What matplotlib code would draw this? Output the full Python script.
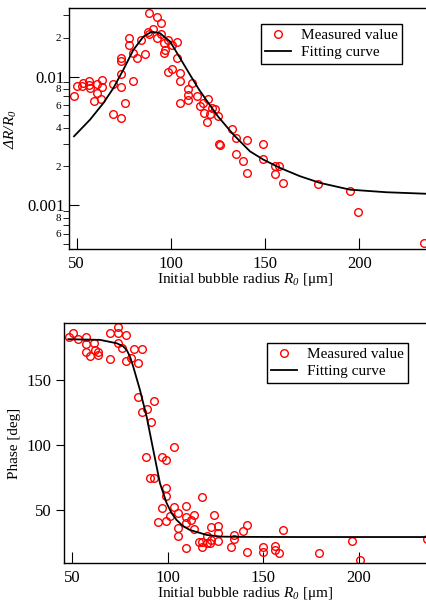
import matplotlib
matplotlib.use("Agg")
import matplotlib.pyplot as plt
from matplotlib.ticker import FixedLocator, FixedFormatter

plt.rcParams['font.family'] = ['Liberation Serif', 'DejaVu Serif']
plt.rcParams['mathtext.fontset'] = 'custom'
# italic for everything in math text, subscripts and Greek included
plt.rcParams['mathtext.rm'] = 'Liberation Serif:italic'
plt.rcParams['mathtext.it'] = 'Liberation Serif:italic'

# --- amplitude data (top) ---
amp_x = [48.6, 50.3, 52.7, 53.2, 56.7, 56.7, 57.1, 59.2, 61.0, 61.0, 63.3, 63.3, 62.9,
         69.5, 69.5, 73.4, 73.4, 73.4, 73.7, 73.7, 75.7, 77.8, 78.0, 79.8, 80.1, 81.9,
         84.0, 86.3, 88.2, 87.7, 88.6, 90.4, 92.5, 92.5, 94.6, 94.9, 96.4, 96.4, 96.7,
         98.6, 98.6, 100.5, 100.8, 103.1, 103.1, 104.9, 104.9, 104.9, 109.3, 109.3, 109.3,
         111.1, 113.7, 115.5, 117.2, 117.6, 119.0, 119.9, 120.8, 121.7, 123.4, 125.2,
         125.7, 126.1, 132.3, 134.4, 134.4, 138.5, 140.6, 140.6, 148.8, 149.1, 155.3,
         157.4, 155.3, 159.4, 178.1, 195.1, 199.3, 234.4]
amp_y = [0.0070, 0.00847, 0.00847, 0.00889, 0.00927, 0.00863, 0.00813, 0.00648, 0.00878,
         0.00743, 0.00943, 0.00828, 0.00671, 0.00878, 0.00514, 0.0105, 0.00836, 0.0139,
         0.0133, 0.00477, 0.00622, 0.0200, 0.0176, 0.00915, 0.0152, 0.0139, 0.0192,
         0.0149, 0.031, 0.0223, 0.0213, 0.0233, 0.0292, 0.0199, 0.0259, 0.0214, 0.0182,
         0.0152, 0.0161, 0.0192, 0.0109, 0.0176, 0.0114, 0.0187, 0.0139, 0.0106, 0.00915,
         0.00622, 0.00798, 0.00721, 0.00659, 0.00889, 0.0070, 0.00585, 0.00622, 0.0052,
         0.0044, 0.00668, 0.00514, 0.00569, 0.00558, 0.0049, 0.00301, 0.00296, 0.00391,
         0.00333, 0.00252, 0.00222, 0.00323, 0.00179, 0.00299, 0.0023, 0.0020, 0.0020,
         0.00175, 0.0015, 0.00145, 0.0013, 0.00089, 0.000507]
amp_fit_x = [48.6, 57.1, 64.2, 69.5, 74.8, 80.1, 85.4, 89.8, 94.2, 99.6, 104.9, 110.2,
             115.0, 120.0, 125.0, 133.1, 142.0, 149.1, 157.9, 168.5, 179.2, 195.1,
             214.6, 240.0]
amp_fit_y = [0.00343, 0.00462, 0.00622, 0.00813, 0.0113, 0.0161, 0.0204, 0.0223,
             0.0217, 0.0187, 0.0139, 0.0103, 0.0079, 0.0062, 0.0049, 0.00355, 0.00262,
             0.00226, 0.00195, 0.00168, 0.00149, 0.00132, 0.00126, 0.00122]

# --- phase data (bottom) ---
ph_x = [48.4, 50.5, 52.8, 57.2, 57.2, 57.2, 59.3, 61.4, 61.9, 63.3, 63.3, 69.7, 69.7,
        73.8, 73.8, 73.8, 76.2, 78.1, 78.1, 80.6, 82.3, 84.4, 86.6, 84.4, 86.6, 88.9,
        91.0, 92.8, 88.6, 90.7, 92.8, 97.1, 99.2, 99.2, 99.2, 97.1, 95.0, 99.2, 101.3,
        103.2, 103.2, 105.5, 105.5, 105.5, 109.5, 109.5, 109.5, 109.5, 112.0, 113.9,
        113.9, 117.9, 116.2, 117.9, 120.4, 120.4, 122.4, 122.4, 124.3, 126.4, 126.4,
        126.4, 122.1, 118.1, 132.9, 134.8, 134.8, 139.2, 141.3, 141.3, 149.7, 149.7,
        156.1, 156.1, 158.2, 160.1, 179.1, 196.3, 200.6, 235.5]
ph_y = [183.3, 185.9, 181.3, 183.3, 177.5, 171.5, 168.7, 178.2, 173.1, 171.3, 169.0,
        186.4, 166.2, 191.0, 185.9, 178.2, 174.4, 184.6, 164.8, 167.2, 173.8, 163.3,
        173.6, 137.2, 125.4, 127.4, 117.9, 133.8, 91.0, 74.8, 74.4, 91.0, 88.5, 67.2,
        60.8, 51.3, 40.5, 41.8, 45.6, 98.5, 52.1, 47.9, 35.9, 30.2, 53.1, 44.9, 39.8,
        20.5, 42.3, 46.2, 35.4, 59.8, 25.2, 21.3, 30.2, 24.4, 36.7, 26.9, 46.2, 37.7,
        25.9, 32.1, 24.8, 25.6, 21.8, 30.8, 27.5, 34.1, 38.5, 17.5, 21.8, 17.5, 22.5,
        19.2, 16.7, 34.4, 16.7, 25.9, 11.8, 27.5]
ph_fit_x = [47.9, 64.5, 73.2, 76.5, 78.5, 80.3, 81.9, 85.4, 88.9, 92.4, 95.9, 99.4,
            102.0, 104.6, 108.0, 111.6, 120.4, 127.8, 140.0, 170.0, 200.0, 240.0]
ph_fit_y = [181.3, 180.8, 178.2, 176.0, 173.0, 167.5, 160.2, 142.3, 121.8, 96.0, 70.5,
            55.2, 47.5, 42.3, 37.5, 34.6, 30.8, 29.5, 29.3, 29.2, 29.2, 29.2]

x_ticks = [50, 100, 150, 200]
amp_major = [0.001, 0.01]
amp_major_labels = ['0.001', '0.01']
amp_minor = [0.0005, 0.0006, 0.0007, 0.0008, 0.0009,
             0.002, 0.003, 0.004, 0.005, 0.006, 0.007, 0.008, 0.009,
             0.02, 0.03]
amp_minor_labels = ['', '6', '', '8', '', '2', '', '4', '', '6', '', '8', '', '2', '']
ph_ticks = [50, 100, 150]

W, H = 427, 605
fig = plt.figure(figsize=(W / 100, H / 100), dpi=100)

mk = dict(ls='none', marker='o', ms=5.5, mfc='none', mec='red', mew=1.0)
leg_kw = dict(loc='upper right', fancybox=False, edgecolor='black', framealpha=1,
              fontsize=11, handlelength=1.7, borderpad=0.3, labelspacing=0.2,
              handletextpad=0.6, borderaxespad=0)

# top panel
w1 = (240 - 46.1) * 1.884
ax1 = fig.add_axes([69.3 / W, 1 - 249.3 / H, w1 / W, (249.3 - 8.3) / H])
ax1.plot(amp_x, amp_y, label='Measured value', **mk)
ax1.plot(amp_fit_x, amp_fit_y, color='black', lw=1.3, label='Fitting curve')
ax1.set_yscale('log')
ax1.set_xlim(46.1, 240)
ax1.set_ylim(0.000454, 0.0339)
ax1.yaxis.set_major_locator(FixedLocator(amp_major))
ax1.yaxis.set_major_formatter(FixedFormatter(amp_major_labels))
ax1.yaxis.set_minor_locator(FixedLocator(amp_minor))
ax1.yaxis.set_minor_formatter(FixedFormatter(amp_minor_labels))
ax1.tick_params(axis='y', which='major', direction='in', length=7, labelsize=12)
ax1.tick_params(axis='y', which='minor', direction='out', length=4, labelsize=8, pad=2)
ax1.set_ylabel(r'$\Delta R/R_0$', fontsize=11, labelpad=6)
ax1.set_xlabel(r'Initial bubble radius $R_0$ [μm]', fontsize=11, labelpad=2)
ax1.xaxis.set_label_coords((245.5 - 69.3) / w1, -0.09)
ax1.legend(bbox_to_anchor=(402 / W, 1 - 24 / H), bbox_transform=fig.transFigure, **leg_kw)

# bottom panel
w2 = (240 - 45.8) * 1.91
ax2 = fig.add_axes([64.3 / W, 1 - 563.3 / H, w2 / W, (563.3 - 322.7) / H])
ax2.plot(ph_x, ph_y, label='Measured value', **mk)
ax2.plot(ph_fit_x, ph_fit_y, color='black', lw=1.3, label='Fitting curve')
ax2.set_xlim(45.8, 240)
ax2.set_ylim(9, 194)
ax2.set_yticks(ph_ticks)
ax2.tick_params(axis='y', direction='out', length=6, labelsize=12)
ax2.set_ylabel('Phase [deg]', fontsize=11, labelpad=4)
ax2.set_xlabel(r'Initial bubble radius $R_0$ [μm]', fontsize=11, labelpad=2)
ax2.xaxis.set_label_coords((245.5 - 64.3) / w2, -0.09)
ax2.legend(bbox_to_anchor=(408 / W, 1 - 343 / H), bbox_transform=fig.transFigure, **leg_kw)

for ax in (ax1, ax2):
    ax.set_xticks(x_ticks)
    ax.tick_params(axis='x', direction='in', length=8, labelsize=12, pad=5)
    for s in ax.spines.values():
        s.set_linewidth(1.0)

fig.savefig('out.png', dpi=100)
